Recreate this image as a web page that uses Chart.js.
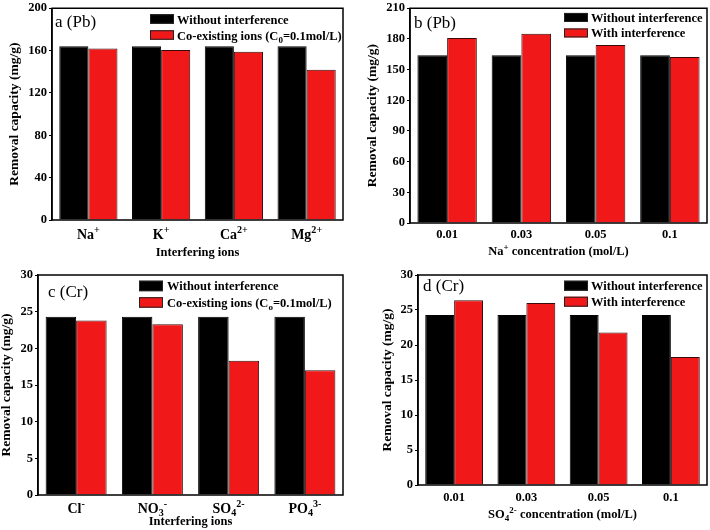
<!DOCTYPE html>
<html>
<head>
<meta charset="utf-8">
<script src="https://cdn.jsdelivr.net/npm/chart.js@4/dist/chart.umd.min.js"></script>
<style>
  body { margin: 0; background: #fff; }
  #wrap { position: relative; width: 710px; height: 530px; }
  #wrap canvas { position: absolute; }
</style>
</head>
<body>
<div id="wrap">
  <canvas id="chartA" width="355" height="265" style="left:0;top:0"></canvas>
  <canvas id="chartB" width="355" height="265" style="left:355px;top:0"></canvas>
  <canvas id="chartC" width="355" height="265" style="left:0;top:265px"></canvas>
  <canvas id="chartD" width="355" height="265" style="left:355px;top:265px"></canvas>
</div>
<script>
// ---- data ----
// _{..} = subscript, ^{..} = superscript
const ionsPb = ['Na^{+}', 'K^{+}', 'Ca^{2+}', 'Mg^{2+}'];
const pbWithout = [164, 164, 164, 164];
const pbCoIons = [162, 160.5, 159, 142];

const naConc = ['0.01', '0.03', '0.05', '0.1'];
const pbNaWithout = [164, 164, 164, 164];
const pbNaWith = [181, 185, 174, 162.3];

const ionsCr = ['Cl^{-}', 'NO_{3}^{-}', 'SO_{4}^{2-}', 'PO_{4}^{3-}'];
const crWithout = [24.3, 24.3, 24.3, 24.3];
const crCoIons = [23.8, 23.3, 18.3, 17.0];

const so4Conc = ['0.01', '0.03', '0.05', '0.1'];
const crSWithout = [24.3, 24.3, 24.3, 24.3];
const crSWith = [26.4, 26.0, 21.8, 18.3];

const FONT = '"Liberation Serif", "Times New Roman", serif';
const RED = 'rgb(240,24,24)';

// draw text with simple sub/superscripts
function drawRich(ctx, str, x, y, size, align, weight) {
  const segs = [];
  const re = /([_^])\{([^}]*)\}|([^_^]+)/g;
  let m;
  while ((m = re.exec(str))) {
    if (m[3]) segs.push({ t: m[3], k: '' });
    else segs.push({ t: m[2], k: m[1] });
  }
  const small = size * 0.72;
  ctx.save();
  ctx.textBaseline = 'alphabetic';
  ctx.textAlign = 'left';
  ctx.fillStyle = '#000';
  let w = 0;
  for (const s of segs) {
    ctx.font = `${weight} ${s.k ? small : size}px ${FONT}`;
    s.w = ctx.measureText(s.t).width;
    w += s.w;
  }
  let cx = align === 'center' ? x - w / 2 : x;
  for (const s of segs) {
    ctx.font = `${weight} ${s.k ? small : size}px ${FONT}`;
    const dy = s.k === '^' ? -size * 0.42 : s.k === '_' ? size * 0.24 : 0;
    ctx.fillText(s.t, cx, y + dy);
    cx += s.w;
  }
  ctx.restore();
}

// frame, x labels, x title, panel tag and legend
const panelPlugin = {
  id: 'panel',
  afterDraw(chart, args, o) {
    const { ctx, chartArea: a } = chart;
    const xs = chart.scales.x;
    ctx.save();
    ctx.strokeStyle = '#000';
    ctx.lineWidth = 1.5;
    ctx.strokeRect(a.left, a.top, a.right - a.left, a.bottom - a.top);
    ctx.restore();

    chart.data.labels.forEach((lab, i) => {
      drawRich(ctx, lab, xs.getPixelForValue(i), a.bottom + o.tickDy, o.tickSize, 'center', 'bold');
    });
    drawRich(ctx, o.xTitle, (a.left + a.right) / 2, a.bottom + o.titleDy, 12.5, 'center', 'bold');
    drawRich(ctx, o.tag, a.left + o.tagX, a.top + o.tagY, 17, 'left', 'normal');

    chart.data.datasets.forEach((ds, i) => {
      const bx = a.left + o.legX;
      const by = a.top + o.legY + i * o.legGap;
      ctx.save();
      ctx.fillStyle = ds.backgroundColor;
      ctx.fillRect(bx, by, 24, o.boxH);
      ctx.strokeStyle = '#222';
      ctx.lineWidth = 1;
      ctx.strokeRect(bx + 0.5, by + 0.5, 23, o.boxH - 1);
      ctx.restore();
      drawRich(ctx, ds.label, bx + o.textDx, by + o.boxH / 2 + 4.5, 12.5, 'left', 'bold');
    });
  }
};

function makeChart(id, cfg) {
  const L = cfg.plot[0], T = cfg.plot[1], R = cfg.plot[2], B = cfg.plot[3];
  return new Chart(document.getElementById(id), {
    type: 'bar',
    data: {
      labels: cfg.labels,
      datasets: [
        { label: 'Without interference', data: cfg.s1, backgroundColor: '#000', borderColor: '#000', borderWidth: 1 },
        { label: cfg.label2, data: cfg.s2, backgroundColor: RED, borderColor: '#3a0a0a', borderWidth: 1 }
      ]
    },
    options: {
      responsive: false,
      animation: false,
      devicePixelRatio: 1,
      layout: { padding: { left: cfg.padLeft, top: T, right: 355 - R, bottom: 0 } },
      datasets: { bar: { categoryPercentage: 0.8, barPercentage: 1.0 } },
      plugins: {
        legend: { display: false },
        tooltip: { enabled: false },
        panel: cfg.panel
      },
      scales: {
        x: {
          offset: true,
          grid: { display: false },
          border: { display: false },
          ticks: { display: false },
          afterFit: s => { s.height = 265 - B; }
        },
        y: {
          min: 0, max: cfg.max,
          grid: { display: true, drawOnChartArea: false, drawTicks: true, tickLength: 3, color: '#000' },
          border: { display: true, color: '#000', width: 1.5 },
          ticks: {
            stepSize: cfg.step, padding: 2, color: '#000',
            font: { family: FONT, size: 12.5, weight: 'bold', lineHeight: 1 }
          },
          title: {
            display: true, text: 'Removal capacity (mg/g)', color: '#000',
            padding: 0, font: { family: FONT, size: 13.5, weight: 'bold', lineHeight: 1 }
          },
          afterFit: s => { s.width = L - cfg.padLeft; }
        }
      }
    },
    plugins: [panelPlugin]
  });
}

const charts = {};

charts.a = makeChart('chartA', {
  labels: ionsPb, s1: pbWithout, s2: pbCoIons,
  label2: 'Co-existing ions (C_{0}=0.1mol/L)',
  max: 200, step: 40, plot: [52, 6, 343, 220], padLeft: 8,
  panel: { tickDy: 19, tickSize: 14, titleDy: 36, xTitle: 'Interfering ions', tag: 'a (Pb)', tagX: 3, tagY: 19,
           legX: 98, legY: 6, legGap: 16, boxH: 9.5, textDx: 27 }
});

charts.b = makeChart('chartB', {
  labels: naConc, s1: pbNaWithout, s2: pbNaWith,
  label2: 'With interference',
  max: 210, step: 30, plot: [55, 6, 352, 223], padLeft: 11,
  panel: { tickDy: 15, tickSize: 12.5, titleDy: 32, xTitle: 'Na^{+} concentration (mol/L)', tag: 'b (Pb)', tagX: 4, tagY: 20,
           legX: 154, legY: 4.7, legGap: 15.5, boxH: 9, textDx: 27 }
});

charts.c = makeChart('chartC', {
  labels: ionsCr, s1: crWithout, s2: crCoIons,
  label2: 'Co-existing ions (C_{o}=0.1mol/L)',
  max: 30, step: 5, plot: [38, 10, 343, 230], padLeft: 0,
  panel: { tickDy: 18, tickSize: 14, titleDy: 30, xTitle: 'Interfering ions', tag: 'c (Cr)', tagX: 10, tagY: 22,
           legX: 101, legY: 5.7, legGap: 16.5, boxH: 10.5, textDx: 28 }
});

charts.d = makeChart('chartD', {
  labels: so4Conc, s1: crSWithout, s2: crSWith,
  label2: 'With interference',
  max: 30, step: 5, plot: [63, 10, 352, 220], padLeft: 26,
  panel: { tickDy: 16, tickSize: 12.5, titleDy: 33, xTitle: 'SO_{4}^{2-} concentration (mol/L)', tag: 'd (Cr)', tagX: 5, tagY: 16,
           legX: 146, legY: 5.7, legGap: 16, boxH: 10, textDx: 27 }
});
</script>
</body>
</html>
